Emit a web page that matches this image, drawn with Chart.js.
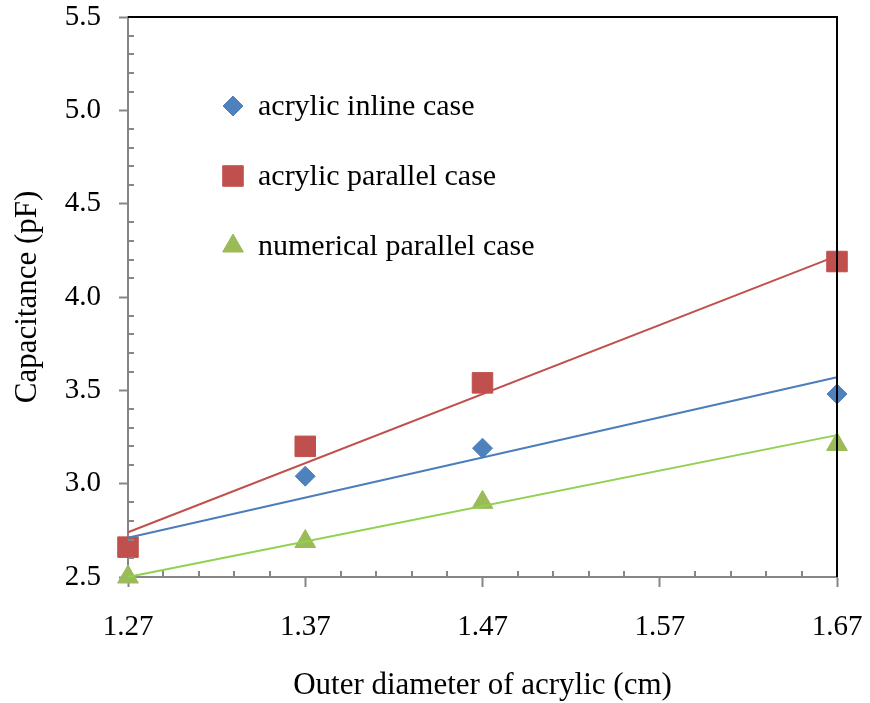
<!DOCTYPE html>
<html>
<head>
<meta charset="utf-8">
<script src="https://cdn.jsdelivr.net/npm/chart.js@4/dist/chart.umd.min.js"></script>
<style>
  html, body { margin: 0; padding: 0; background: #fff; }
  #wrap { width: 870px; height: 703px; }
</style>
</head>
<body>
<div id="wrap"><canvas id="chart" width="870" height="703"></canvas></div>
<script>
// ─── Dados ───────────────────────────────────────────────────────────────────

const diameters     = [1.27, 1.37, 1.47, 1.67];
const inlineVals    = [2.66, 3.04, 3.19, 3.48];
const parallelVals  = [2.66, 3.20, 3.54, 4.19];
const numericalVals = [2.50, 2.69, 2.90, 3.21];

// linear trendlines, read at both ends of the axis
const trendX         = [1.27, 1.67];
const inlineTrend    = [2.71, 3.57];
const parallelTrend  = [2.74, 4.22];
const numericalTrend = [2.50, 3.26];

const xTicks = [1.27, 1.37, 1.47, 1.57, 1.67];
const yTicks = [2.5, 3.0, 3.5, 4.0, 4.5, 5.0, 5.5];

const labels = ["acrylic inline case", "acrylic parallel case", "numerical parallel case"];

// ─── Estilo ──────────────────────────────────────────────────────────────────

const FONT  = "'Liberation Serif', 'Times New Roman', serif";
const GREY  = "#868686";
const BLUE  = "#4f81bd";
const RED   = "#c0504d";
const GREEN = "#9bbb59";

const pts = (xs, ys) => xs.map((x, i) => ({ x, y: ys[i] }));

function markers(label, vals, color, style, radius, order) {
  return {
    type: "scatter", label, order,
    data: pts(diameters, vals),
    pointStyle: style, pointRadius: radius, pointHoverRadius: radius,
    backgroundColor: color, borderColor: color, borderWidth: 1,
    clip: false,
  };
}

function trend(vals, color) {
  return {
    type: "line", label: "", order: 0,
    data: pts(trendX, vals),
    borderColor: color, borderWidth: 2, pointRadius: 0,
    fill: false, clip: false, isTrend: true,
  };
}

// ─── Plugins ─────────────────────────────────────────────────────────────────

// minor ticks pointing into the plot + black top / right frame
const frame = {
  id: "frame",
  afterDraw(chart) {
    const { ctx, chartArea: a, scales: { x, y } } = chart;
    ctx.save();
    ctx.strokeStyle = GREY;
    ctx.lineWidth = 2;
    ctx.beginPath();
    for (let v = 2.6; v < 5.5; v += 0.1) {
      if (Math.abs(v * 2 - Math.round(v * 2)) < 1e-6) continue;
      const py = Math.round(y.getPixelForValue(v));
      ctx.moveTo(a.left, py); ctx.lineTo(a.left + 6, py);
    }
    for (let k = 1; k < 20; k++) {
      if (k % 5 === 0) continue;
      const px = Math.round(x.getPixelForValue(1.27 + k * 0.02));
      ctx.moveTo(px, a.bottom); ctx.lineTo(px, a.bottom - 6);
    }
    ctx.stroke();

    ctx.strokeStyle = "#000";
    ctx.beginPath();
    ctx.moveTo(a.left, a.top); ctx.lineTo(a.right, a.top);
    ctx.lineTo(a.right, a.bottom);
    ctx.stroke();
    ctx.restore();
  }
};

// legend drawn inside the plot area
const insideLegend = {
  id: "insideLegend",
  afterDraw(chart) {
    const { ctx, chartArea: a } = chart;
    const sets = chart.data.datasets.filter(d => !d.isTrend);
    ctx.save();
    ctx.font = "30px " + FONT;
    ctx.textBaseline = "middle";
    sets.forEach((d, i) => {
      const cx = a.left + 105, cy = a.top + 89 + i * 70;
      ctx.fillStyle = d.backgroundColor;
      ctx.strokeStyle = d.borderColor;
      ctx.lineWidth = 1;
      Chart.helpers.drawPoint(ctx, { pointStyle: d.pointStyle, radius: d.pointRadius, borderWidth: 1, rotation: 0 }, cx, cy);
      ctx.fillStyle = "#000";
      ctx.fillText(d.label, cx + 25, cy + 1);
    });
    ctx.restore();
  }
};

// ─── Gráfico ─────────────────────────────────────────────────────────────────

new Chart(document.getElementById("chart"), {
  data: {
    datasets: [
      trend(inlineTrend, "#4a7ebb"),
      trend(parallelTrend, "#c0504d"),
      trend(numericalTrend, "#92d050"),
      markers(labels[0], inlineVals, BLUE, "rectRot", 10, 3),
      markers(labels[1], parallelVals, RED, "rect", 14.5, 1),
      markers(labels[2], numericalVals, GREEN, "triangle", 12, 2),
    ]
  },
  options: {
    responsive: false,
    animation: false,
    events: [],
    layout: { padding: { top: 17, right: 33, left: 0, bottom: 0 } },
    plugins: { legend: { display: false }, tooltip: { enabled: false } },
    scales: {
      x: {
        type: "linear", position: "bottom",
        min: 1.27, max: 1.67,
        afterBuildTicks: s => { s.ticks = xTicks.map(value => ({ value })); },
        afterFit: s => { s.height = 126; s.paddingLeft = 0; s.paddingRight = 0; },
        grid: { drawOnChartArea: false, drawTicks: true, tickLength: 10, tickWidth: 2, tickColor: GREY, color: GREY },
        border: { color: GREY, width: 2 },
        ticks: { color: "#000", padding: 23, maxRotation: 0, font: { family: FONT, size: 29 }, callback: v => v.toFixed(2) },
        title: { display: true, text: "Outer diameter of acrylic (cm)", color: "#000", font: { family: FONT, size: 31, lineHeight: 1.1 }, padding: { top: 0, bottom: 0 } },
      },
      y: {
        type: "linear", position: "left",
        min: 2.5, max: 5.5,
        afterBuildTicks: s => { s.ticks = yTicks.map(value => ({ value })); },
        afterFit: s => { s.width = 128; s.paddingTop = 0; s.paddingBottom = 0; },
        grid: { drawOnChartArea: false, drawTicks: true, tickLength: 9, tickWidth: 2, tickColor: GREY, color: GREY },
        border: { color: GREY, width: 2 },
        ticks: { color: "#000", padding: 18, font: { family: FONT, size: 29 }, callback: v => v.toFixed(1) },
        title: { display: true, text: "Capacitance (pF)", color: "#000", font: { family: FONT, size: 31, lineHeight: 1.1 }, padding: { top: 11, bottom: 0 } },
      }
    }
  },
  plugins: [frame, insideLegend]
});
</script>
</body>
</html>
